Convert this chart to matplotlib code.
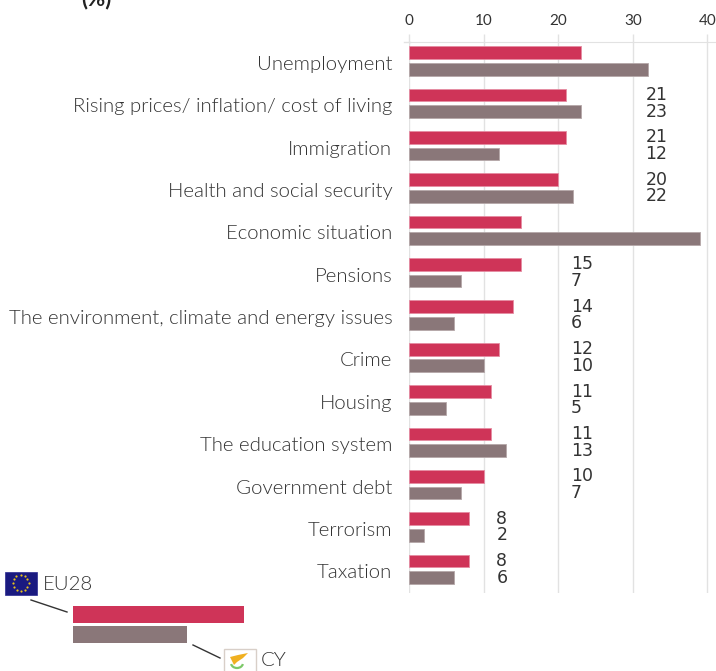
#!/usr/bin/env python3
# Horizontal bars, EU28 against CY, with a small key below the chart
import numpy as np
import matplotlib
matplotlib.use('Agg')
import matplotlib.pyplot as plt
from matplotlib.patches import Rectangle, Polygon, Arc
from matplotlib.transforms import ScaledTranslation

plt.rcParams['font.family'] = ['Lato', 'DejaVu Sans']

categories = ['Unemployment', 'Rising prices/ inflation/ cost of living', 'Immigration',
              'Health and social security', 'Economic situation', 'Pensions',
              'The environment, climate and energy issues', 'Crime', 'Housing',
              'The education system', 'Government debt', 'Terrorism', 'Taxation']
eu28 = [23, 21, 21, 20, 15, 15, 14, 12, 11, 11, 10, 8, 8]
cy = [32, 23, 12, 22, 39, 7, 6, 10, 5, 13, 7, 2, 6]
# printed numbers sit in columns, the reference has none for these two rows
no_label = ['Unemployment', 'Economic situation']
x_ticks = [0, 10, 20, 30, 40]
key_values = [23, 15.3]
key_names = ['EU28', 'CY']

RED = '#CF3458'
GREY = '#8A7779'
TEXT = '#333333'
GRID = '#E2E2E2'
W, H = 716, 671

fig = plt.figure(figsize=(W / 100, H / 100), dpi=100)


def px_axes(x0, y0, x1, y1):
    return fig.add_axes([x0 / W, 1 - y1 / H, (x1 - x0) / W, (y1 - y0) / H])


ax = px_axes(409, 41.5, 716, 593)
ax.set_xlim(0, 307 / 7.46)
ax.set_ylim(12.56, -0.46)

ypos = np.arange(len(categories))
ax.barh(ypos - 0.196, eu28, height=0.3, color=RED, edgecolor='#E58CA2', linewidth=0.6, zorder=3)
ax.barh(ypos + 0.196, cy, height=0.3, color=GREY, edgecolor='#B5A8A9', linewidth=0.6, zorder=3)

for i, name in enumerate(categories):
    if name in no_label:
        continue
    # column depends on the decade of the EU28 value
    col = eu28[i] // 10 * 10 + 11.7
    ax.text(col, i - 0.196, str(eu28[i]), fontsize=12.5, color=TEXT, va='center', ha='left',
            family='DejaVu Sans')
    ax.text(col, i + 0.196, str(cy[i]), fontsize=12.5, color=TEXT, va='center', ha='left',
            family='DejaVu Sans')

ax.xaxis.tick_top()
ax.set_xticks(x_ticks)
ax.tick_params(axis='x', length=6, width=1, color=GRID, labelsize=11, labelcolor=TEXT, pad=4)
ax.set_yticks(ypos)
ax.set_yticklabels(categories, fontsize=14.65, color=TEXT, fontweight=300)
ax.tick_params(axis='y', length=0, pad=12)
# labels sit a little below the row centre in the reference
shift = ScaledTranslation(0, -2 / 100, fig.dpi_scale_trans)
for lab in ax.get_yticklabels():
    lab.set_transform(lab.get_transform() + shift)
ax.grid(axis='x', color=GRID, linewidth=1, zorder=0)
ax.set_axisbelow(True)
for side in ['left', 'right', 'bottom']:
    ax.spines[side].set_visible(False)
ax.spines['top'].set_color(GRID)

# key bars on their own little axis, same scale as the chart
key = px_axes(73, 604, 244, 645)
key.barh([0, 1], key_values, height=0.82, color=[RED, GREY])
key.set_xlim(0, 171 / 7.46)
key.set_ylim(1.5, -0.5)
key.axis('off')

# overlay in pixel units for the flags, leader lines and stray title bit
over = px_axes(0, 0, W, H)
over.set_xlim(0, W)
over.set_ylim(H, 0)
over.axis('off')
over.patch.set_alpha(0)

over.plot([404, 410], [41.5, 41.5], color=GRID, lw=1)
over.text(81, -1, '(%)', fontsize=16, fontweight='bold', color='#222222', va='center',
          ha='left', clip_on=True)

over.add_patch(Rectangle((4.5, 571.5), 32, 23, facecolor='#1A1A80', edgecolor='#2A2A90', lw=0.5))
ang = np.arange(12) * np.pi / 6
over.scatter(20.5 + 8 * np.cos(ang), 583 + 8 * np.sin(ang), s=2.5, color='#E8C21A', linewidths=0)
over.text(43, 585, key_names[0], fontsize=14.65, color=TEXT, va='center', ha='left', fontweight=300)
over.plot([31, 67], [600, 612], color='#333333', lw=1)

over.add_patch(Rectangle((223.5, 648.5), 32, 28, facecolor='white', edgecolor='#D8CFC8', lw=1))
over.add_patch(Polygon([(230, 657), (238, 655), (243, 654), (248, 653), (243, 658), (237, 662),
                        (234, 665), (232, 661)], facecolor='#F0B020', edgecolor='none'))
over.add_patch(Arc((237, 663), 12, 10, theta1=10, theta2=170, color='#7CC868', lw=1.6))
over.text(261, 661, key_names[1], fontsize=14.65, color=TEXT, va='center', ha='left', fontweight=300)
over.plot([193, 220], [645, 658], color='#333333', lw=1)

fig.savefig('out.png', dpi=100)
